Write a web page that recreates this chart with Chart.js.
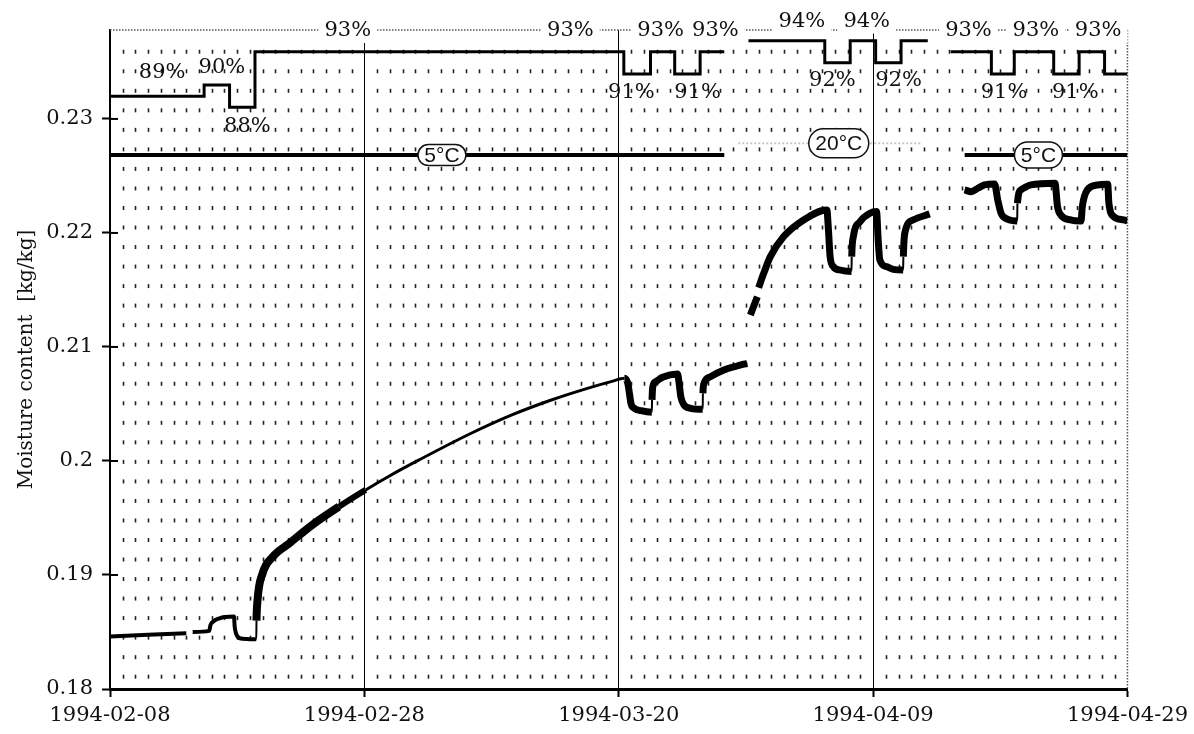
<!DOCTYPE html>
<html>
<head>
<meta charset="utf-8">
<title>Moisture content</title>
<script src="https://cdn.jsdelivr.net/npm/chart.js@4.4.1/dist/chart.umd.min.js"></script>
<style>
html, body { margin: 0; padding: 0; background: #fff; }
canvas { display: block; }
</style>
</head>
<body>
<canvas id="moisture" width="1194" height="734"></canvas>
<script>
// x values are days after 1994-02-08
var dateTicks = ['1994-02-08', '1994-02-28', '1994-03-20', '1994-04-09', '1994-04-29'];

// moisture content [kg/kg], null = no record
var mcDays = [
  0, 3, 6.0, 6.2,
  6.5, 7.8, 7.9, 8.1, 8.6, 9.0, 9.75, 9.8, 9.9, 10.2, 10.8, 11.5,
  11.52, 11.6, 12.0, 12.8, 14.1, 15.9, 18.0, 20.1, 21.9, 24.3, 28.4, 31.6, 34.7, 37.8, 39.4,
  40.45, 40.71, 40.84, 40.96, 41.23, 41.75, 42.6,
  42.62, 42.68, 42.92, 43.44, 44.62,
  44.75, 44.88, 45.14, 45.66, 46.6,
  46.62, 46.71, 47.23, 48.27, 49.3, 50.1, 50.2,
  50.35, 50.9, 50.95,
  51.0, 51.4, 51.92, 52.97, 54.54, 56.36,
  56.49, 56.62, 56.88, 57.4, 58.3,
  58.32, 58.45, 58.97, 59.75, 60.27,
  60.4, 60.53, 61.06, 61.58, 62.36,
  62.38, 62.49, 63.15, 64.45, 65.0,
  67.19, 67.71, 68.23, 68.75, 69.55,
  69.8, 70.06, 70.58, 71.33,
  71.35, 71.62, 72.41, 74.3,
  74.5, 74.76, 75.54, 76.35,
  76.45, 76.84, 77.63, 78.45,
  78.54, 78.93, 79.71, 80
];
var mcValues = [
  0.1846, 0.18475, 0.1849, null,
  0.1850, 0.1851, 0.1856, 0.1859, 0.1862, 0.18632, 0.18635, 0.1855, 0.1849, 0.18445, 0.18438, 0.18436,
  0.1860, 0.1878, 0.19015, 0.1916, 0.19278, 0.19439, 0.19599, 0.19746, 0.19864, 0.20009, 0.20243, 0.20404, 0.20535, 0.20646, 0.20696,
  0.20725, 0.20682, 0.20594, 0.20506, 0.20462, 0.20441, 0.20427,
  0.20535, 0.20652, 0.20696, 0.20734, 0.20763,
  0.20682, 0.20564, 0.20491, 0.20462, 0.20453,
  0.20594, 0.20682, 0.2074, 0.20798, 0.20833, 0.20857, null,
  0.21281, 0.21441, null,
  0.2152, 0.21646, 0.21792, 0.21968, 0.22114, 0.22202,
  0.22026, 0.21792, 0.21704, 0.21675, 0.21661,
  0.21792, 0.21968, 0.22099, 0.22173, 0.22187,
  0.21939, 0.21763, 0.21704, 0.21681, 0.21675,
  0.21792, 0.21997, 0.22114, 0.22167, null,
  0.22377, 0.22362, 0.22392, 0.22421, 0.2243,
  0.2229, 0.22173, 0.2212, 0.22105,
  0.2226, 0.22377, 0.22421, 0.22436,
  0.22231, 0.22158, 0.22114, 0.22105,
  0.22231, 0.22377, 0.22421, 0.22426,
  0.2226, 0.22143, 0.22114, 0.22105
];

// relative humidity set points [%], each value holds until the next day listed
var rhDays   = [0, 7.4, 9.4, 11.4, 40.4, 42.5, 44.4, 46.4, 48.3, 49.3, 50.2, 56.2, 58.2, 60.2, 62.2, 64.3, 65.2, 66.1, 69.3, 71.1, 74.2, 76.2, 78.2, 80];
var rhValues = [89, 90, 88, 93, 91, 93, 91, 93, 93, null, 94, 92, 94, 92, 94, 94, null, 93, 91, 93, 91, 93, 91, 91];

// air temperature [°C]
var tempDays   = [0, 48.3, 48.9, 49.4, 63.8, 66.0, 67.2, 80];
var tempValues = [5, 5, null, 20, 20, null, 5, 5];

// where the text goes: [day, pixel offset from the line]
var rhNotes = [[4.1, -24], [8.8, -18], [10.8, 19], [41.0, 19], [46.2, 19], [56.8, 18], [62.0, 18], [70.3, 19], [75.9, 19]];
var rhTopNotes = [18.7, 36.2, 43.3, 47.6, 54.4, 59.5, 67.5, 72.8, 77.7];
// [day, tag width, tag height]
var tempNotes = [[26.1, 48, 21], [57.3, 60, 29], [73.0, 48, 26]];

var serif = 'DejaVu Serif';

function pts(xs, ys) {
  return xs.map(function (d, i) { return { x: d, y: ys[i] }; });
}

function valueAt(xs, ys, day) {
  var v = null;
  for (var i = 0; i < xs.length; i++) {
    if (xs[i] <= day && ys[i] !== null) v = ys[i];
  }
  return v;
}

var paperGrid = {
  id: 'paperGrid',
  beforeDatasetsDraw: function (chart) {
    var ctx = chart.ctx, a = chart.chartArea, x = chart.scales.x, y = chart.scales.y;
    var rh = chart.scales.yRh;
    ctx.save();
    // short dashes, one column per day
    ctx.strokeStyle = '#222';
    ctx.lineWidth = 1.6;
    for (var d = 1; d < 80; d++) {
      if (d % 20 === 0) continue;
      var px = Math.round(x.getPixelForValue(d)) + 0.5;
      for (var py = a.bottom - 14.3; py > a.top + 10; py -= 19.53) {
        ctx.beginPath();
        ctx.moveTo(px, py);
        ctx.lineTo(px, py + 4);
        ctx.stroke();
      }
    }
    // dotted top and right frame
    ctx.setLineDash([1.5, 1.5]);
    ctx.strokeStyle = '#555';
    ctx.lineWidth = 1.5;
    ctx.beginPath();
    ctx.moveTo(a.left, a.top);
    ctx.lineTo(a.right, a.top);
    ctx.moveTo(a.right, a.top);
    ctx.lineTo(a.right, a.bottom);
    ctx.stroke();
    ctx.setLineDash([]);
    // y ticks also poke into the plot
    ctx.strokeStyle = '#000';
    ctx.lineWidth = 2;
    y.ticks.forEach(function (t) {
      var py = y.getPixelForValue(t.value);
      ctx.beginPath();
      ctx.moveTo(a.left, py);
      ctx.lineTo(a.left + 8, py);
      ctx.stroke();
    });
    // RH values written on the top frame
    ctx.font = '21px "' + serif + '"';
    ctx.textAlign = 'center';
    ctx.textBaseline = 'middle';
    rhTopNotes.forEach(function (d) {
      var v = valueAt(rhDays, rhValues, d);
      var txt = v + '%';
      var w = ctx.measureText(txt).width;
      var px = x.getPixelForValue(d);
      var py = Math.min(a.top + 1, rh.getPixelForValue(v) - 19);
      ctx.fillStyle = '#fff';
      ctx.fillRect(px - w / 2 - 6, py - 12, w + 12, 24);
      ctx.fillStyle = '#111';
      ctx.fillText(txt, px, py);
    });
    ctx.restore();
  },
  afterDatasetsDraw: function (chart) {
    var ctx = chart.ctx, x = chart.scales.x;
    var rh = chart.scales.yRh, temp = chart.scales.yTemp;
    ctx.save();
    ctx.font = '21px "' + serif + '"';
    ctx.textAlign = 'center';
    ctx.textBaseline = 'middle';
    ctx.fillStyle = '#111';
    rhNotes.forEach(function (n) {
      var v = valueAt(rhDays, rhValues, n[0]);
      ctx.fillText(v + '%', x.getPixelForValue(n[0]), rh.getPixelForValue(v) + n[1]);
    });
    // temperature tags
    ctx.font = '21px "Liberation Sans"';
    tempNotes.forEach(function (n) {
      var v = valueAt(tempDays, tempValues, n[0]);
      var px = x.getPixelForValue(n[0]), py = temp.getPixelForValue(v);
      var w = n[1], h = n[2];
      ctx.beginPath();
      ctx.roundRect(px - w / 2, py - h / 2, w, h, h / 2);
      ctx.fillStyle = '#fff';
      ctx.fill();
      ctx.lineWidth = 1.5;
      ctx.strokeStyle = '#111';
      ctx.stroke();
      ctx.fillStyle = '#111';
      ctx.fillText(v + '°C', px, py + 1);
    });
    ctx.restore();
  }
};

new Chart(document.getElementById('moisture'), {
  type: 'line',
  data: {
    datasets: [
      {
        label: 'Moisture content',
        data: pts(mcDays, mcValues),
        borderColor: '#000',
        borderWidth: 6,
        pointRadius: 0,
        cubicInterpolationMode: 'monotone',
        spanGaps: false,
        borderJoinStyle: 'round',
        segment: {
          borderWidth: function (c) {
            var x0 = c.p0.parsed.x, x1 = c.p1.parsed.x;
            if (x1 - x0 < 0.05) return 2;
            if (x0 < 11.5) return 4;
            if (x0 < 16) return 8;
            if (x0 < 20) return 6;
            if (x0 < 40.4) return 3;
            return 7;
          }
        }
      },
      {
        label: 'RH',
        yAxisID: 'yRh',
        data: pts(rhDays, rhValues),
        stepped: 'before',
        borderColor: '#000',
        borderWidth: 3,
        pointRadius: 0,
        spanGaps: false
      },
      {
        label: 'Temperature',
        yAxisID: 'yTemp',
        data: pts(tempDays, tempValues),
        borderColor: '#000',
        borderWidth: 4,
        pointRadius: 0,
        spanGaps: false,
        segment: {
          borderColor: function (c) { return c.p0.parsed.y >= 20 ? 'rgba(0,0,0,0.22)' : '#000'; },
          borderWidth: function (c) { return c.p0.parsed.y >= 20 ? 2 : 4; },
          borderDash: function (c) { return c.p0.parsed.y >= 20 ? [2, 2] : undefined; }
        }
      }
    ]
  },
  options: {
    responsive: false,
    devicePixelRatio: 1,
    animation: false,
    layout: { padding: { top: 30, right: 62, left: 0, bottom: 0 } },
    plugins: { legend: { display: false }, tooltip: { enabled: false } },
    scales: {
      x: {
        type: 'linear',
        min: 0,
        max: 80,
        afterFit: function (s) { s.height = 45; },
        ticks: {
          stepSize: 20,
          autoSkip: false,
          maxRotation: 0,
          padding: 6,
          color: '#111',
          font: { family: serif, size: 21 },
          callback: function (v) { return dateTicks[Math.round(v / 20)]; }
        },
        grid: {
          color: function (c) { return c.tick && c.tick.value === 80 ? 'rgba(0,0,0,0)' : '#000'; },
          lineWidth: 1,
          drawTicks: true,
          tickLength: 8,
          tickWidth: 2,
          tickColor: '#000'
        },
        border: { color: '#000', width: 3 }
      },
      y: {
        min: 0.18,
        max: 0.2378,
        afterFit: function (s) { s.width = 110; },
        ticks: {
          stepSize: 0.01,
          includeBounds: false,
          padding: 9,
          color: '#111',
          font: { family: serif, size: 21 },
          callback: function (v) { return String(Math.round(v * 100) / 100); }
        },
        grid: { drawOnChartArea: false, drawTicks: true, tickLength: 8, tickWidth: 2, tickColor: '#000' },
        border: { color: '#000', width: 2 },
        title: {
          display: true,
          text: 'Moisture content  [kg/kg]',
          color: '#111',
          font: { family: serif, size: 20 },
          padding: { top: 15, bottom: 0 }
        }
      },
      yRh: { axis: 'y', position: 'left', display: false, min: 35.59, max: 94.96 },
      yTemp: { axis: 'y', position: 'left', display: false, min: -679.6, max: 165.3 }
    }
  },
  plugins: [paperGrid]
});
</script>
</body>
</html>
